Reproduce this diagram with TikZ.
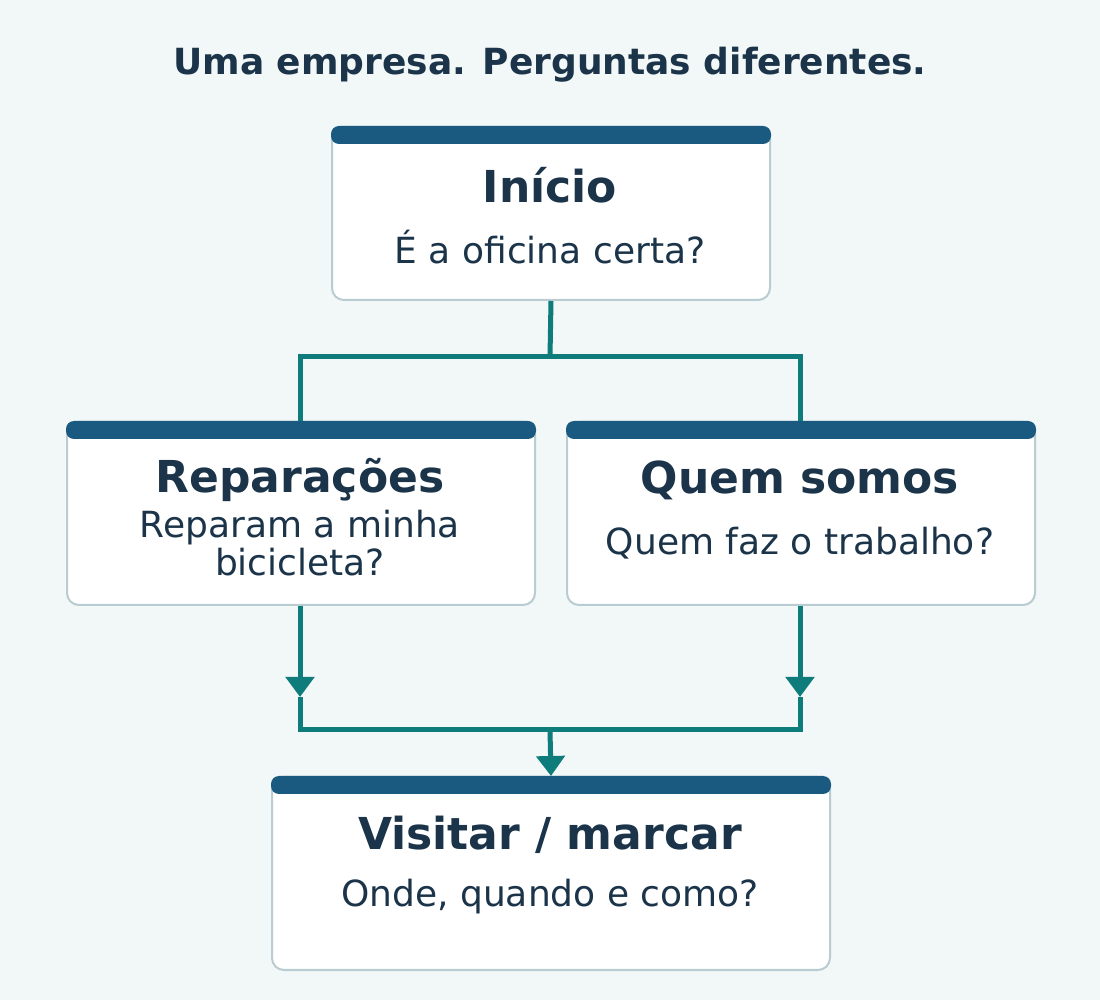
\documentclass[tikz,border=0pt]{standalone}
\usepackage{fontspec}
\setmainfont{DejaVu Sans}
\usetikzlibrary{arrows.meta,positioning}
\definecolor{bgc}{HTML}{F2F7F7}
\definecolor{ink}{HTML}{1B3449}
\definecolor{barc}{HTML}{1A5A80}
\definecolor{edgec}{HTML}{B8CCD2}
\definecolor{flow}{HTML}{0E7C7B}
\tikzset{
  card/.style={draw=edgec, line width=1pt, fill=white, rounded corners=6pt,
    inner sep=0pt, anchor=north west},
  ttl/.style={font=\bfseries\fontsize{22}{26}\selectfont, text=ink},
  sub/.style={font=\fontsize{18}{22}\selectfont, text=ink, align=center},
  link/.style={draw=flow, line width=2.5pt},
  tip/.style={-{Triangle[length=10pt,width=14pt]}}
}
\newcommand\card[5]{% name, x, y, w, h
  \node[card, minimum width=#4*0.5pt, minimum height=#5*0.5pt] (#1) at (#2,#3) {};
  \fill[barc, rounded corners=4pt] (#1.north west) rectangle ([yshift=-9pt]#1.north east);
}
\begin{document}
\begin{tikzpicture}[x=0.5pt,y=-0.5pt]
\fill[bgc] (0,0) rectangle (1100,1000);
\node[font=\bfseries\fontsize{18}{22}\selectfont, text=ink] (head) at (550,65) {Uma empresa. Perguntas diferentes.};
% cards
\card{start}{331}{126}{438}{173}
\card{rep}{66}{421}{468}{183}
\card{quem}{566}{421}{468}{183}
\card{visit}{271}{776}{558}{193}
% texts
\node[ttl] (startT) at (550,185) {Início};
\node[sub] (startS) at (550,247) {É a oficina certa?};
\node[ttl] (repT) at (300,480) {Reparações};
\node[sub] (repS) at (300,543) {Reparam a minha\\[-3pt]bicicleta?};
\node[ttl] (quemT) at (800,480) {Quem somos};
\node[sub] (quemS) at (800,543) {Quem faz o trabalho?};
\node[ttl] (visitT) at (550,835) {Visitar / marcar};
\node[sub] (visitS) at (550,897) {Onde, quando e como?};
% connectors
\coordinate (split) at (550,357);
\coordinate (join) at (550,730);
\coordinate (repIn) at (300,697);
\coordinate (quemIn) at (800,697);
\draw[link] (start.south) -- (split);
\draw[link] (rep.north -| repIn) |- (split) -| (quem.north -| quemIn);
\draw[link, tip] (rep.south -| repIn) -- (repIn);
\draw[link, tip] (quem.south -| quemIn) -- (quemIn);
\draw[link] (repIn) |- (join) -| (quemIn);
\draw[link, tip] (join) -- (visit.north);
\end{tikzpicture}
\end{document}
